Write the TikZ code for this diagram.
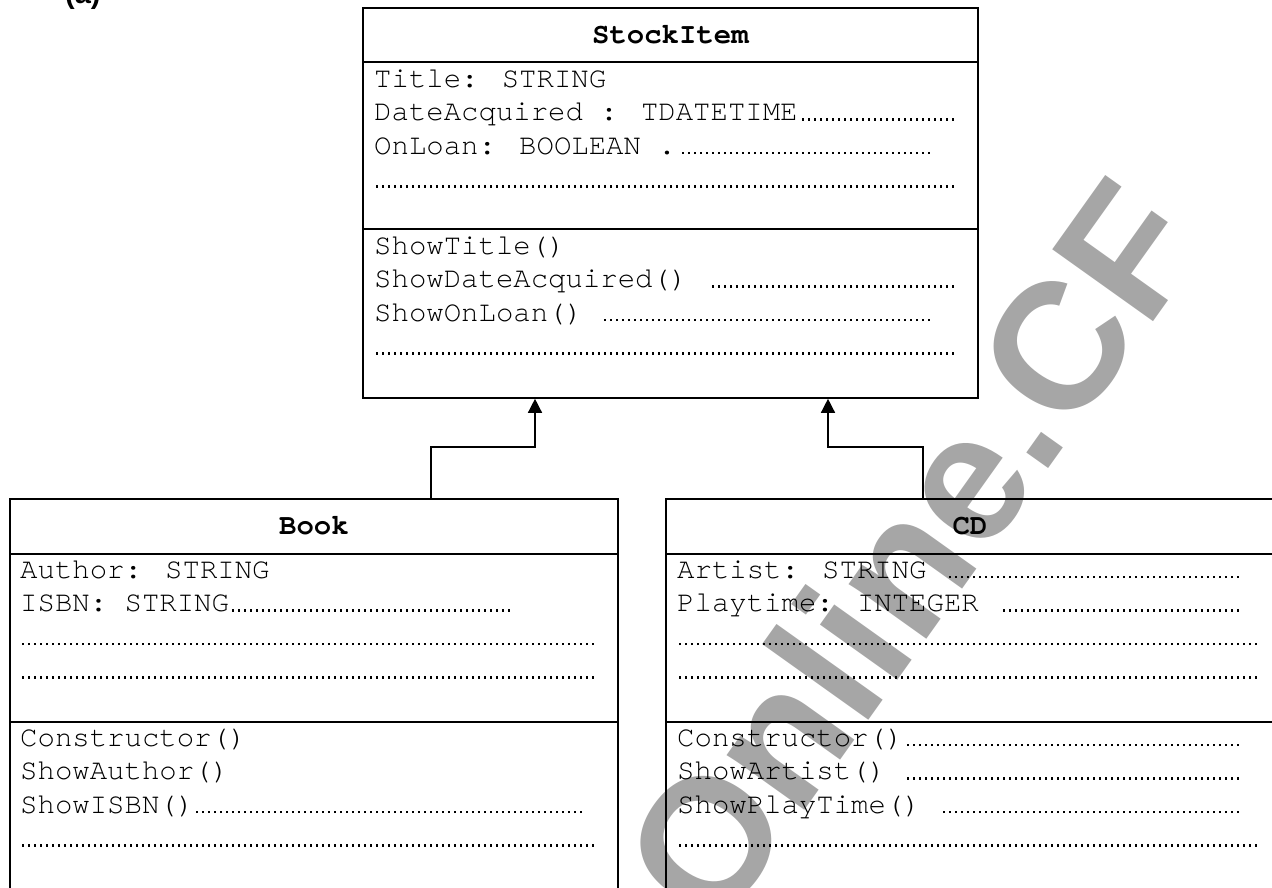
\documentclass[tikz,border=0pt]{standalone}
\usepackage{fontspec}
\usepackage{tikz}
\usetikzlibrary{positioning, arrows.meta, calc}
\newfontfamily\mono{TeX Gyre Cursor}
\newfontfamily\arial{Liberation Sans}
\definecolor{filigr}{HTML}{A6A6A6}
% puntini di riempimento (come nel modulo d'esame)
\newcommand{\puntini}{\leaders\hbox to 6pt{\hss\vrule width 2.1pt height 2.1pt\hss}\hfill}
\newcommand{\riga}[2]{\hbox to #1pt{#2\puntini}}
\tikzset{
	>={Triangle[length=14pt, width=14pt]},
	% classe UML (solo il contorno)
	classe/.style={draw, line width=1.8pt, rectangle, anchor=north west, inner sep=0pt},
	% linea che separa nome, attributi e metodi
	divisore/.style={line width=1.8pt},
	% nome della classe
	titolo/.style={inner sep=0pt, font=\mono\bfseries\fontsize{29}{33.5}\selectfont},
	% attributo o metodo
	voce/.style={anchor=base west, inner sep=0pt, font=\mono\fontsize{29}{33.5}\selectfont},
	% ereditarieta'
	eredita/.style={->, line width=1.4pt},
	% scritta in filigrana
	filigrana/.style={text=filigr, inner sep=0pt, font=\arial\bfseries\fontsize{180}{180}\selectfont},
}

\begin{document}
\begin{tikzpicture}[x=1pt, y=-1pt]
    \useasboundingbox (0,0) rectangle (1272,887);
    % filigrana e numero della domanda
    \node[filigrana, rotate=54.5] (marchio) at (911,551) {Online.CF};
    \node[anchor=base west, inner sep=0pt, font=\arial\bfseries\fontsize{29}{33}\selectfont] (parte) at (65,3) {(a)};
    % classi
    \node[classe, minimum width=615pt, minimum height=390pt] (stock) at (362,7) {};
    \node[classe, minimum width=608pt, minimum height=420pt] (book) at (9,498) {};
    \node[classe, minimum width=608pt, minimum height=420pt] (cd) at (665,498) {};
    \foreach \c/\a/\b in {stock/55/222, book/56/224, cd/56/224} {
      \draw[divisore] ($(\c.north west)+(0,\a)$) -- ($(\c.north east)+(0,\a)$);
      \draw[divisore] ($(\c.north west)+(0,\b)$) -- ($(\c.north east)+(0,\b)$);
    }
    \node[titolo] (stocktit) at ($(stock.north)+(0,27.5)$) {StockItem};
    \node[titolo] (booktit) at ($(book.north)+(0,28)$) {Book};
    \node[titolo] (cdtit) at ($(cd.north)+(0,28)$) {CD};
    % StockItem
    \node[voce] (s1) at (374,87)    {Title: STRING};
    \node[voce] (s2) at (374,120.5) {\riga{582}{DateAcquired : TDATETIME}};
    \node[voce] (s3) at (374,154)   {\riga{563}{OnLoan: BOOLEAN .}};
    \node[voce] (s4) at (374,187.5) {\riga{582}{}};
    \node[voce] (s5) at (374,254)   {ShowTitle()};
    \node[voce] (s6) at (374,287.5) {\riga{582}{ShowDateAcquired() }};
    \node[voce] (s7) at (374,321)   {\riga{563}{ShowOnLoan() }};
    \node[voce] (s8) at (374,354.5) {\riga{582}{}};
    % Book
    \node[voce] (b1) at (20,578)   {Author: STRING};
    \node[voce] (b2) at (20,611.5) {\riga{492}{ISBN: STRING}};
    \node[voce] (b3) at (20,645)   {\riga{581}{}};
    \node[voce] (b4) at (20,678.5) {\riga{581}{}};
    \node[voce] (b5) at (20,746)   {Constructor()};
    \node[voce] (b6) at (20,779.5) {ShowAuthor()};
    \node[voce] (b7) at (20,813)   {\riga{564}{ShowISBN()}};
    \node[voce] (b8) at (20,846.5) {\riga{581}{}};
    % CD
    \node[voce] (c1) at (677,578)   {\riga{564}{Artist: STRING }};
    \node[voce] (c2) at (677,611.5) {\riga{564}{Playtime: INTEGER }};
    \node[voce] (c3) at (677,645)   {\riga{582}{}};
    \node[voce] (c4) at (677,678.5) {\riga{582}{}};
    \node[voce] (c5) at (677,746)   {\riga{564}{Constructor()}};
    \node[voce] (c6) at (677,779.5) {\riga{564}{ShowArtist() }};
    \node[voce] (c7) at (677,813)   {\riga{564}{ShowPlayTime() }};
    \node[voce] (c8) at (677,846.5) {\riga{582}{}};
    % ereditarieta'
    \coordinate (bookup) at ($(book.north west)+(422,0)$);
    \coordinate (cdup) at ($(cd.north west)+(258,0)$);
    \coordinate (stockl) at ($(stock.south west)+(173,0)$);
    \coordinate (stockr) at ($(stock.south west)+(466,0)$);
    \draw[eredita] (bookup) -- ++(0,-51) -| (stockl);
    \draw[eredita] (cdup) -- ++(0,-51) -| (stockr);
\end{tikzpicture}
\end{document}
